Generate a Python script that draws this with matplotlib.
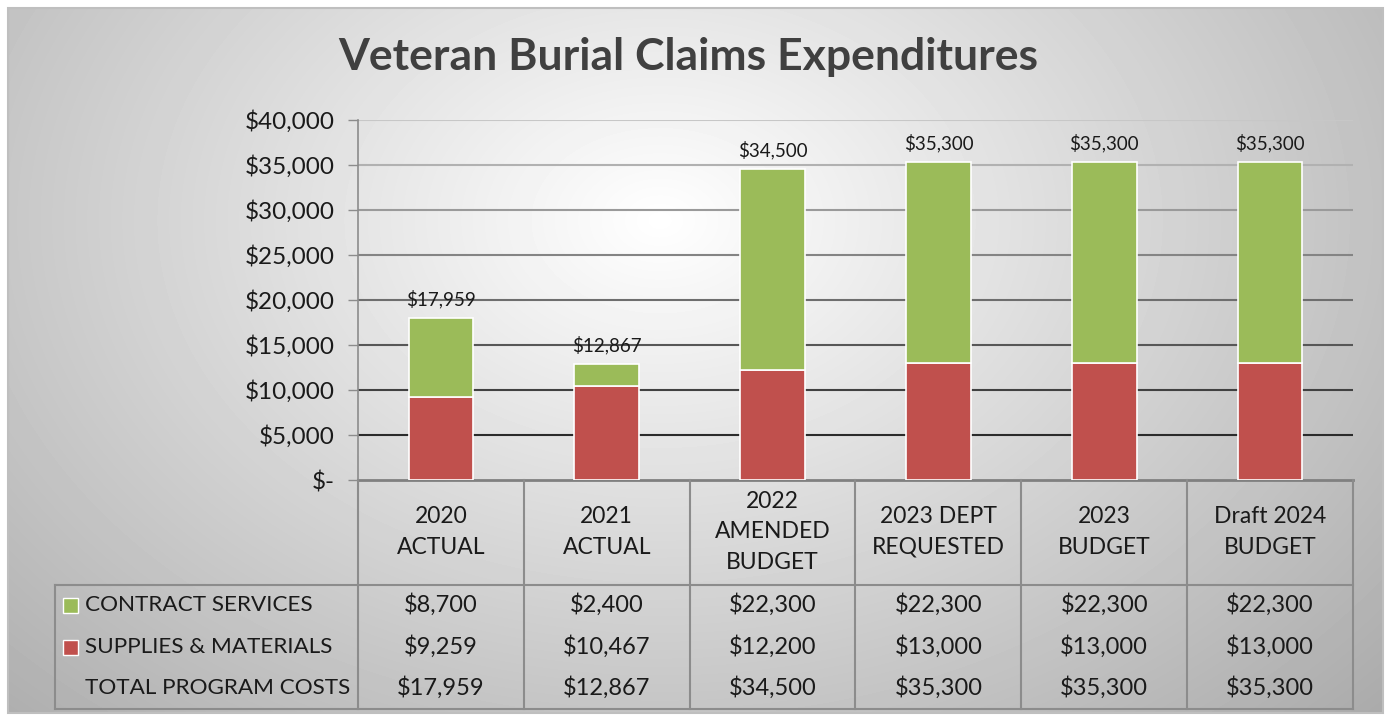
import numpy as np
import matplotlib.pyplot as plt
from matplotlib.patches import Rectangle

# chart data
categories = ['2020\nACTUAL', '2021\nACTUAL', '2022\nAMENDED\nBUDGET',
              '2023 DEPT\nREQUESTED', '2023\nBUDGET', 'Draft 2024\nBUDGET']
contract_services = [8700, 2400, 22300, 22300, 22300, 22300]
supplies_materials = [9259, 10467, 12200, 13000, 13000, 13000]
total_costs = [17959, 12867, 34500, 35300, 35300, 35300]
row_names = ['CONTRACT SERVICES', 'SUPPLIES & MATERIALS', 'TOTAL PROGRAM COSTS']
y_ticks = [0, 5000, 10000, 15000, 20000, 25000, 30000, 35000, 40000]

GREEN = '#9bbb59'
RED = '#c0504d'
LINE = '#8c8c8c'

plt.rcParams['font.family'] = ['Lato', 'DejaVu Sans']

W, H = 1387, 717
fig = plt.figure(figsize=(W / 100, H / 100), dpi=100)
fig.patch.set_facecolor('white')

# background with radial gray gradient
bg = fig.add_axes([0, 0, 1, 1], zorder=0)
bg.set_xlim(0, W)
bg.set_ylim(H, 0)
bg.axis('off')
xx, yy = np.meshgrid(np.linspace(8, 1383, 400), np.linspace(8, 713, 200))
r = np.sqrt(((xx - 660) / 900) ** 2 + ((yy - 220) / 650) ** 2)
shade = 1 - 0.3 * np.clip(r, 0, 1.1)
bg.imshow(shade, cmap='gray', vmin=0, vmax=1, extent=(8, 1383, 713, 8),
          aspect='auto', interpolation='bilinear')
bg.add_patch(Rectangle((8, 8), 1375, 705, fill=False, edgecolor='#bfbfbf', lw=1.5))

# main bar axes
ax = fig.add_axes([358 / W, 1 - 480 / H, 995 / W, 360 / H], zorder=2)
ax.patch.set_alpha(0)
x = np.arange(len(categories))
ax.set_xlim(-0.5, len(categories) - 0.5)
ax.set_ylim(0, 40000)

for v in y_ticks[1:]:
    g = 0.08 + 0.7 * v / 40000
    ax.axhline(v, color=(g, g, g), lw=1.5, zorder=0)

ax.bar(x, supplies_materials, width=0.39, color=RED, edgecolor='white', lw=1.2, zorder=3)
ax.bar(x, contract_services, width=0.39, bottom=supplies_materials, color=GREEN,
       edgecolor='white', lw=1.2, zorder=3)

for xi, t in zip(x, total_costs):
    ax.annotate(f'${t:,}', (xi, t), xytext=(0, 14), textcoords='offset points',
                ha='center', va='center', fontsize=13.5, color='#1a1a1a')

ax.set_yticks(y_ticks)
ax.set_yticklabels(['$-' if v == 0 else f'${v:,}' for v in y_ticks])
ax.tick_params(axis='y', direction='out', length=7, width=1, color=LINE,
               labelsize=17.5, pad=10, labelcolor='#1a1a1a')
ax.set_xticks([])
for s in ['top', 'right']:
    ax.spines[s].set_visible(False)
ax.spines['left'].set_color(LINE)
ax.spines['left'].set_linewidth(1.2)
ax.spines['bottom'].set_color('#808080')
ax.spines['bottom'].set_linewidth(2)

# data table under the chart
tax = fig.add_axes([358 / W, 1 - 709 / H, 995 / W, 229 / H], zorder=2)
tax.patch.set_alpha(0)
tax.axis('off')
tax.set_xlim(ax.get_xlim())
tax.set_ylim(709, 480)


def px2x(px):
    return (px - 358) / 995 * len(categories) - 0.5


x_left = px2x(55)
for e in np.arange(len(categories) + 1) - 0.5:
    tax.plot([e, e], [480, 709], color=LINE, lw=1.5, clip_on=False)
tax.plot([x_left, 5.5], [585, 585], color=LINE, lw=1.5, clip_on=False)
tax.plot([x_left, 5.5], [709, 709], color=LINE, lw=1.5, clip_on=False)
tax.plot([x_left, x_left], [585, 709], color=LINE, lw=1.5, clip_on=False)

for xi, c in zip(x, categories):
    tax.text(xi, 532, c, ha='center', va='center', fontsize=16.5,
             linespacing=1.58, color='#1a1a1a')

row_y = [605, 647, 688]
rows = [contract_services, supplies_materials, total_costs]
for ry, vals, name in zip(row_y, rows, row_names):
    for xi, v in zip(x, vals):
        tax.text(xi, ry, f'${v:,}', ha='center', va='center', fontsize=17,
                 color='#1a1a1a', clip_on=False)
    tax.text(px2x(85), ry, name, ha='left', va='center', fontsize=16.2,
             color='#1a1a1a', clip_on=False)

key_w = 15 / 995 * len(categories)
for ry, col in zip(row_y[:2], [GREEN, RED]):
    tax.add_patch(Rectangle((px2x(63), ry - 7.5), key_w, 15, facecolor=col,
                            edgecolor='white', lw=1, clip_on=False))

fig.text(688 / W, 1 - 57 / H, 'Veteran Burial Claims Expenditures', ha='center',
         va='center', fontsize=32, fontweight='bold', color='#404040')

fig.savefig('out.png', dpi=100)
